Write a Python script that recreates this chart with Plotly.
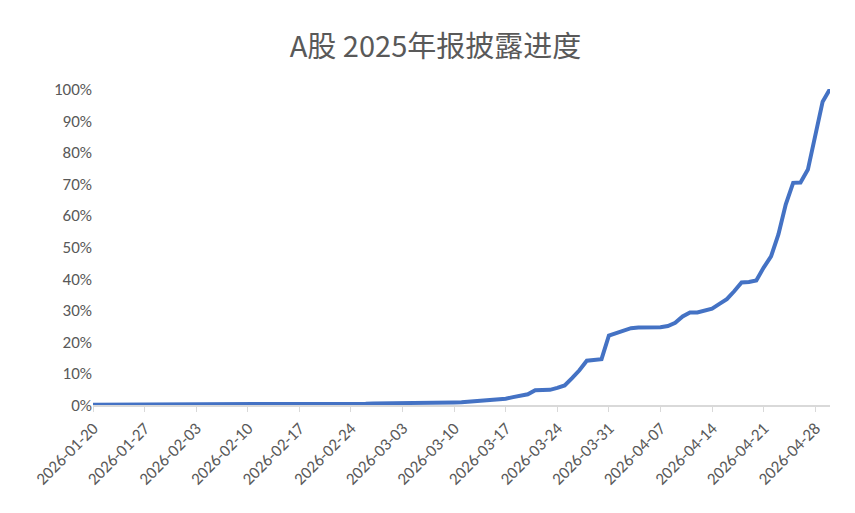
import pandas as pd
import plotly.graph_objects as go

start_date = "2026-01-20"
progress_pct = (
    [0.1]*10 + [0.15]*10 + [0.2]*10 + [0.25]*6 +
    [0.3, 0.4, 0.5, 0.5, 0.5, 0.55, 0.55, 0.6, 0.6, 0.65, 0.7, 0.7, 0.8, 0.8, 0.85, 1.0, 1.1, 1.3, 1.6, 1.7, 2.0, 2.5, 3.0, 3.4,
     4.7, 4.8, 4.8, 5.4, 6.2, 8.5, 11, 14, 14.1, 14.5, 22, 22.7, 23.3, 24.3, 24.5, 24.5, 24.5, 24.6, 25, 26,
     28, 29.3, 29.3, 29.8, 30.5, 32, 33.5, 36, 38.8, 38.9, 39.4, 43.5, 47, 54, 63.5, 70.3, 70.4, 74.5, 85, 96, 100]
)
dates = pd.date_range(start_date, periods=len(progress_pct), freq="D")
tick_dates = pd.date_range(start_date, "2026-04-28", freq="7D")
tick_labels = [d.strftime("%Y-%m-%d") for d in tick_dates]

fig = go.Figure(go.Scatter(x=dates, y=[v/100 for v in progress_pct], mode="lines",
                           line=dict(color="#4472C4", width=4)))
fig.update_layout(
    width=855, height=513, plot_bgcolor="white", paper_bgcolor="white",
    margin=dict(l=85, r=33, t=81, b=116),
    title=dict(text="A股 2025年报披露进度", x=0.5, y=0.945, xanchor="center",
               font=dict(size=29, color="#595959", family="Noto Sans CJK SC")),
    font=dict(family="Carlito, Liberation Sans, Noto Sans CJK SC", color="#595959", size=17),
    showlegend=False,
)
fig.update_xaxes(range=[dates[0], dates[-1]], tickvals=tick_dates, ticktext=tick_labels, tickangle=-45,
                 showgrid=False, showline=True, linecolor="#D9D9D9", linewidth=1.5, automargin=False,
                 ticks="outside", tickcolor="#D9D9D9", ticklen=5, tickfont=dict(size=17))
fig.update_yaxes(range=[0, 1], tickvals=[i/10 for i in range(11)], tickformat=".0%", automargin=False,
                 showgrid=False, zeroline=False, ticks="", tickfont=dict(size=17))
fig.write_html("out.html")
